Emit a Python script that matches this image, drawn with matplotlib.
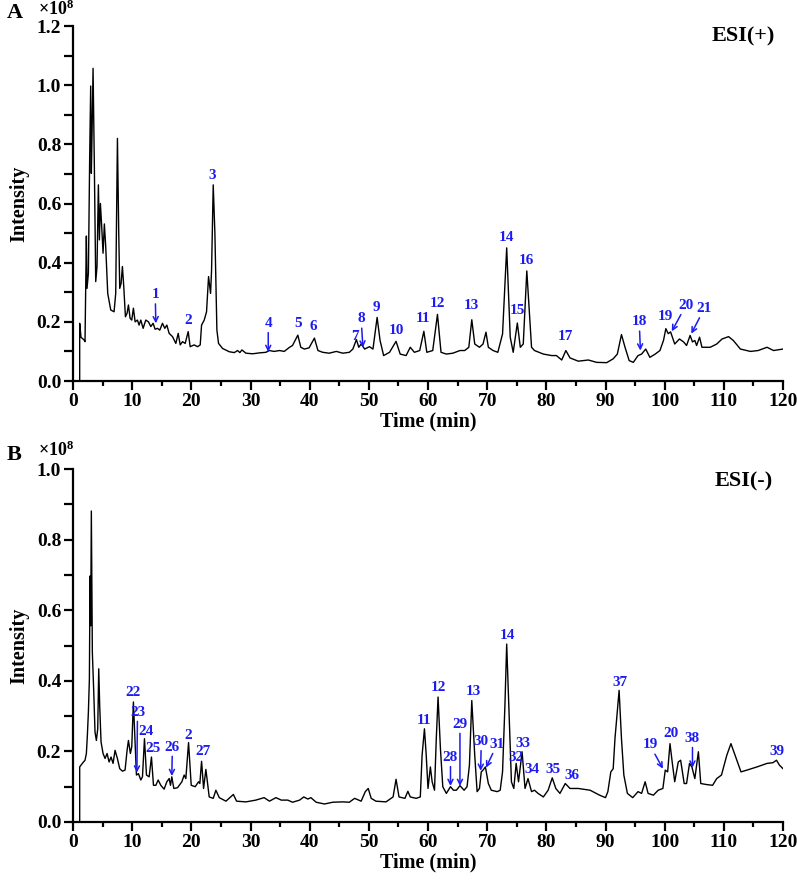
import numpy as np
import matplotlib
matplotlib.use("Agg")
import matplotlib.pyplot as plt

plt.rcParams["font.family"] = ["Liberation Serif", "DejaVu Serif"]
plt.rcParams["font.weight"] = "bold"
plt.rcParams["mathtext.fontset"] = "custom"
plt.rcParams["mathtext.rm"] = "Liberation Serif:bold"
plt.rcParams["mathtext.bf"] = "Liberation Serif:bold"

# ESI(+) trace, time (min) / intensity (x1e8)
pos_time = [1.13, 1.13, 1.35, 1.86, 2.03, 2.26, 2.37, 2.6, 2.82, 2.99, 3.1, 3.22, 3.39, 3.61, 3.84,
            4.06, 4.29, 4.46, 4.63, 4.85, 5.08, 5.3, 5.53, 5.87, 6.38, 6.94, 7.22, 7.51, 7.73, 7.9,
            8.13, 8.35, 8.58, 8.86, 9.14, 9.37, 9.65, 9.93, 10.21, 10.5, 10.89, 11.17, 11.46, 11.85,
            12.3, 12.75, 13.15, 13.54, 13.88, 14.28, 14.67, 15.12, 15.52, 15.86, 16.25, 16.82, 17.38,
            17.78, 18.12, 18.51, 18.96, 19.47, 19.8, 20.48, 21.05, 21.5, 21.73, 22.18, 22.57, 22.91,
            23.25, 23.42, 23.7, 23.98, 24.32, 24.6, 25.28, 26.4, 27.26, 27.82, 28.2, 28.55, 29.23,
            30.36, 31.5, 32.6, 33.2, 34.0, 34.9, 35.7, 36.6, 37.1, 38.0, 38.5, 39.1, 39.9, 40.8,
            41.4, 42.2, 43.3, 44.5, 45.6, 46.7, 47.3, 47.9, 48.3, 48.7, 49.3, 50.1, 50.7, 51.4,
            51.9, 52.5, 53.5, 54.6, 55.3, 56.3, 57.0, 57.7, 58.6, 59.3, 59.8, 60.8, 61.6, 62.2,
            63.1, 64.2, 65.4, 66.2, 66.9, 67.4, 67.9, 68.7, 69.3, 69.8, 70.2, 71.0, 71.8, 72.6,
            73.3, 73.9, 74.4, 75.1, 75.6, 76.1, 76.7, 77.5, 78.0, 79.5, 80.9, 81.7, 82.6, 83.3,
            84.0, 85.4, 87.1, 88.5, 90.2, 91.3, 92.0, 92.7, 93.3, 94.0, 94.7, 95.5, 96.1, 96.8,
            97.5, 98.4, 99.2, 99.8, 100.2, 100.6, 101.0, 101.7, 102.5, 103.2, 103.7, 104.3, 104.7,
            105.1, 105.4, 105.9, 106.3, 107.7, 108.8, 109.7, 110.8, 111.6, 112.8, 114.5, 115.8,
            117.3, 118.4, 120.0]
pos_int = [0.0, 0.195, 0.148, 0.139, 0.133, 0.49, 0.313, 0.364, 0.758, 0.997, 0.702, 0.837, 1.057,
           0.725, 0.336, 0.387, 0.663, 0.477, 0.6, 0.522, 0.432, 0.531, 0.454, 0.296, 0.24, 0.234,
           0.296, 0.82, 0.5, 0.313, 0.33, 0.387, 0.319, 0.217, 0.229, 0.257, 0.212, 0.206, 0.246,
           0.2, 0.206, 0.189, 0.206, 0.178, 0.206, 0.2, 0.184, 0.195, 0.175, 0.178, 0.172, 0.195,
           0.178, 0.189, 0.161, 0.15, 0.127, 0.161, 0.122, 0.133, 0.127, 0.167, 0.116, 0.122, 0.116,
           0.122, 0.189, 0.206, 0.234, 0.353, 0.296, 0.375, 0.663, 0.5, 0.172, 0.127, 0.11, 0.099,
           0.096, 0.103, 0.096, 0.105, 0.094, 0.092, 0.095, 0.097, 0.103, 0.1, 0.103, 0.1, 0.114,
           0.12, 0.155, 0.114, 0.108, 0.112, 0.145, 0.103, 0.097, 0.094, 0.1, 0.094, 0.097, 0.108,
           0.14, 0.114, 0.125, 0.108, 0.116, 0.108, 0.215, 0.137, 0.086, 0.097, 0.134, 0.091, 0.086,
           0.114, 0.097, 0.103, 0.168, 0.097, 0.103, 0.225, 0.097, 0.091, 0.094, 0.103, 0.103,
           0.114, 0.207, 0.125, 0.114, 0.125, 0.165, 0.114, 0.103, 0.097, 0.159, 0.45, 0.148,
           0.097, 0.196, 0.114, 0.125, 0.372, 0.114, 0.103, 0.091, 0.086, 0.086, 0.071, 0.103,
           0.078, 0.067, 0.071, 0.063, 0.062, 0.075, 0.091, 0.157, 0.114, 0.069, 0.063, 0.086,
           0.091, 0.108, 0.08, 0.091, 0.103, 0.137, 0.177, 0.16, 0.166, 0.125, 0.142, 0.132, 0.12,
           0.154, 0.132, 0.137, 0.12, 0.148, 0.114, 0.114, 0.125, 0.142, 0.15, 0.137, 0.108,
           0.1, 0.103, 0.114, 0.103, 0.108]

# ESI(-) trace
neg_time = [1.13, 1.13, 1.58, 2.03, 2.26, 2.43, 2.6, 2.77, 2.88, 2.99, 3.1, 3.27, 3.5, 3.72, 3.95,
            4.18, 4.35, 4.51, 4.74, 5.08, 5.42, 5.76, 6.1, 6.43, 6.77, 7.11, 7.5, 7.9, 8.35, 8.8,
            9.14, 9.37, 9.7, 9.93, 10.21, 10.44, 10.72, 11.06, 11.46, 11.74, 12.08, 12.42, 12.87,
            13.26, 13.6, 14.0, 14.39, 14.84, 15.4, 15.86, 16.25, 16.48, 16.7, 17.04, 17.66, 18.4,
            18.79, 19.07, 19.53, 19.98, 20.65, 21.22, 21.44, 21.73, 22.07, 22.46, 23.02, 23.7,
            24.15, 24.72, 25.85, 27.1, 27.65, 29.23, 30.9, 32.3, 33.2, 34.3, 35.2, 36.3, 37.1,
            38.3, 39.0, 39.7, 40.2, 41.1, 42.5, 43.9, 45.6, 46.7, 47.6, 48.7, 49.4, 49.9, 50.4,
            51.2, 52.9, 54.1, 54.6, 55.1, 56.1, 56.6, 57.0, 58.0, 58.7, 59.0, 59.4, 59.7, 60.0,
            60.4, 60.7, 61.1, 61.4, 61.7, 62.1, 62.5, 63.1, 63.8, 64.3, 64.8, 65.4, 66.1, 66.6,
            67.0, 67.4, 67.9, 68.3, 68.7, 69.0, 69.3, 69.7, 70.2, 70.7, 71.7, 72.2, 72.6, 73.0,
            73.3, 73.7, 74.1, 74.5, 74.9, 75.3, 75.9, 76.4, 76.9, 77.5, 78.0, 78.6, 79.5, 80.3,
            81.0, 81.6, 82.3, 83.2, 84.0, 85.4, 87.4, 89.0, 90.0, 90.4, 90.9, 91.3, 91.6, 92.3,
            92.7, 93.1, 93.7, 94.6, 95.5, 96.1, 96.7, 97.2, 98.1, 98.9, 99.7, 100.1, 100.5, 100.9,
            101.3, 101.7, 102.3, 102.7, 103.3, 103.7, 104.2, 104.6, 105.1, 105.7, 106.1, 107.1,
            108.1, 108.8, 109.6, 110.5, 111.2, 111.9, 112.9, 113.9, 115.6, 117.3, 118.3, 118.9,
            119.4, 120.0]
neg_int = [0.0, 0.156, 0.166, 0.175, 0.194, 0.246, 0.311, 0.405, 0.697, 0.556, 0.881, 0.48, 0.372,
           0.255, 0.231, 0.264, 0.434, 0.33, 0.227, 0.194, 0.18, 0.194, 0.17, 0.184, 0.166, 0.203,
           0.18, 0.151, 0.144, 0.147, 0.203, 0.231, 0.194, 0.213, 0.34, 0.246, 0.133, 0.137, 0.119,
           0.128, 0.236, 0.133, 0.128, 0.184, 0.104, 0.104, 0.119, 0.104, 0.093, 0.114, 0.123,
           0.104, 0.128, 0.095, 0.097, 0.114, 0.133, 0.123, 0.225, 0.104, 0.1, 0.114, 0.109, 0.172,
           0.095, 0.149, 0.071, 0.067, 0.09, 0.069, 0.059, 0.078, 0.059, 0.057, 0.062, 0.069, 0.059,
           0.069, 0.062, 0.062, 0.056, 0.062, 0.071, 0.065, 0.069, 0.056, 0.051, 0.056, 0.057,
           0.056, 0.067, 0.059, 0.086, 0.095, 0.067, 0.059, 0.057, 0.071, 0.121, 0.071, 0.067,
           0.087, 0.071, 0.067, 0.071, 0.189, 0.264, 0.189, 0.095, 0.156, 0.114, 0.09, 0.236, 0.354,
           0.208, 0.1, 0.081, 0.1, 0.09, 0.09, 0.103, 0.09, 0.1, 0.161, 0.344, 0.189, 0.086, 0.095,
           0.142, 0.147, 0.156, 0.109, 0.09, 0.086, 0.09, 0.142, 0.33, 0.504, 0.311, 0.114, 0.095,
           0.166, 0.114, 0.199, 0.095, 0.123, 0.086, 0.09, 0.081, 0.071, 0.09, 0.125, 0.095, 0.081,
           0.109, 0.095, 0.095, 0.09, 0.076, 0.069, 0.086, 0.142, 0.151, 0.236, 0.373, 0.236, 0.133,
           0.081, 0.069, 0.086, 0.081, 0.114, 0.081, 0.076, 0.09, 0.095, 0.147, 0.142, 0.222, 0.166,
           0.114, 0.17, 0.175, 0.109, 0.109, 0.166, 0.156, 0.123, 0.199, 0.109, 0.106, 0.104, 0.123,
           0.133, 0.189, 0.222, 0.189, 0.142, 0.147, 0.156, 0.166, 0.168, 0.175, 0.161, 0.151]

# peak labels: text, label time, label height, arrow tip (None = no arrow)
pos_labels = ["1", "2", "3", "4", "5", "6", "7", "8", "9", "10", "11", "12", "13", "14",
              "15", "16", "17", "18", "19", "20", "21"]
pos_label_t = [13.9, 19.5, 23.6, 33.0, 38.0, 40.6, 47.7, 48.7, 51.3, 54.6, 59.2, 61.6, 67.3,
               73.3, 75.1, 76.7, 83.3, 95.7, 100.1, 103.6, 106.7]
pos_label_y = [0.27, 0.183, 0.673, 0.173, 0.173, 0.163, 0.128, 0.188, 0.226, 0.15, 0.19, 0.24,
               0.234, 0.463, 0.215, 0.384, 0.128, 0.178, 0.196, 0.234, 0.223]
pos_arrow_tip = [(14.0, 0.195), None, None, (33.0, 0.098), None, None, None, (49.0, 0.113),
                 None, None, None, None, None, None, None, None, None, (95.9, 0.103), None,
                 (101.2, 0.168), (104.5, 0.16)]

neg_labels = ["22", "23", "24", "25", "26", "2", "27", "11", "12", "13", "14", "28", "29",
              "30", "31", "32", "33", "34", "35", "36", "37", "19", "20", "38", "39"]
neg_label_t = [10.2, 10.9, 12.3, 13.5, 16.8, 19.5, 22.0, 59.4, 61.8, 67.6, 73.4, 63.8, 65.4,
               69.0, 71.7, 74.8, 76.0, 77.6, 81.1, 84.3, 92.4, 97.5, 101.0, 104.7, 119.0]
neg_label_y = [0.348, 0.293, 0.238, 0.19, 0.194, 0.226, 0.18, 0.27, 0.362, 0.351, 0.511,
               0.165, 0.259, 0.21, 0.202, 0.163, 0.205, 0.129, 0.129, 0.113, 0.376, 0.2,
               0.231, 0.219, 0.182]
neg_arrow_tip = [None, (10.8, 0.14), None, None, (16.7, 0.13), None, None, None, None, None,
                 None, (63.8, 0.102), (65.4, 0.102), (68.9, 0.145), (69.8, 0.154), None, None,
                 None, None, None, None, (99.7, 0.151), None, (104.7, 0.154), None]

label_blue = "#1c1cf0"


def draw_panel(ax, t, y, labels, lab_t, lab_y, tips, ymax, mode_text, mode_y):
    ax.plot(t, y, color="black", linewidth=1.0)
    for text, lx, ly, tip in zip(labels, lab_t, lab_y, tips):
        if tip is None:
            ax.text(lx, ly, text, color=label_blue, fontsize=11, fontweight="bold",
                    ha="center", va="bottom")
        else:
            ax.annotate(text, xy=tip, xytext=(lx, ly), color=label_blue, fontsize=11,
                        fontweight="bold", ha="center", va="bottom",
                        arrowprops=dict(arrowstyle="->", color=label_blue, lw=1.1,
                                        shrinkA=0, shrinkB=0, mutation_scale=9))
    ax.text(113.3, mode_y, mode_text, fontsize=16, fontweight="bold", ha="center", va="center")

    ax.set_xlim(0, 120)
    ax.set_ylim(0, ymax)
    ax.set_xticks(np.arange(0, 121, 10))
    ax.set_xticks(np.arange(0, 121, 5), minor=True)
    ax.set_yticks(np.arange(0, ymax + 0.01, 0.2))
    ax.set_yticks(np.arange(0, ymax + 0.01, 0.1), minor=True)
    ax.set_yticklabels([f"{v:.1f}" for v in np.arange(0, ymax + 0.01, 0.2)])
    for side in ["top", "right"]:
        ax.spines[side].set_visible(False)
    for side in ["left", "bottom"]:
        ax.spines[side].set_linewidth(1.6)
    ax.tick_params(axis="both", which="major", direction="out", length=6.5, width=1.6,
                   labelsize=14, pad=2)
    ax.tick_params(axis="x", which="minor", direction="out", length=3.5, width=1.6)
    ax.tick_params(axis="y", which="minor", direction="out", length=6.5, width=1.6)
    for lab in ax.get_xticklabels() + ax.get_yticklabels():
        lab.set_fontweight("bold")
    ax.set_xlabel("Time (min)", fontsize=14.5, fontweight="bold", labelpad=1)
    ax.set_ylabel("Intensity", fontsize=14.5, fontweight="bold", labelpad=5)


fig = plt.figure(figsize=(7.97, 8.83), dpi=100)
ax_top = fig.add_axes([73 / 797, 1 - 381 / 883, 710 / 797, 355 / 883])
ax_bot = fig.add_axes([73 / 797, 1 - 822 / 883, 710 / 797, 353 / 883])

draw_panel(ax_top, pos_time, pos_int, pos_labels, pos_label_t, pos_label_y, pos_arrow_tip,
           1.2, "ESI(+)", 1.163)
draw_panel(ax_bot, neg_time, neg_int, neg_labels, neg_label_t, neg_label_y, neg_arrow_tip,
           1.0, "ESI(-)", 0.965)

fig.text(7 / 797, 1 - 13 / 883, "A", fontsize=16, fontweight="bold", va="center", ha="left")
fig.text(7 / 797, 1 - 455 / 883, "B", fontsize=16, fontweight="bold", va="center", ha="left")
fig.text(38 / 797, 1 - 9 / 883, r"$\times\mathbf{10^{8}}$", fontsize=13, va="center", ha="left")
fig.text(38 / 797, 1 - 450 / 883, r"$\times\mathbf{10^{8}}$", fontsize=13, va="center", ha="left")

fig.savefig("out.png", dpi=100)
